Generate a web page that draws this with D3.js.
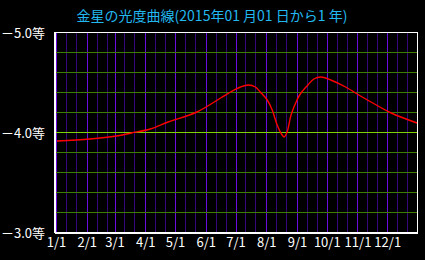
<!DOCTYPE html>
<html>
<head>
<meta charset="utf-8">
<script src="https://cdn.jsdelivr.net/npm/d3@7"></script>
<style>
  body { margin: 0; background: #000; }
  text { font-family: "Noto Sans CJK JP", sans-serif; }
</style>
</head>
<body>
<div id="chart"></div>
<script>
// DATA //
const titleText = "金星の光度曲線(2015年01 月01 日から1 年)"

// dates, with extra points around the August dip
const dates = [
    "2015-01-02", "2015-02-04", "2015-03-03", "2015-03-18", "2015-04-06",
    "2015-04-24", "2015-05-23", "2015-06-16", "2015-06-26", "2015-07-06",
    "2015-07-14", "2015-07-21", "2015-07-26", "2015-08-02", "2015-08-07",
    "2015-08-12", "2015-08-17", "2015-08-19", "2015-08-22", "2015-08-26",
    "2015-09-01", "2015-09-05", "2015-09-12", "2015-09-18", "2015-09-25",
    "2015-10-05", "2015-10-20", "2015-11-04", "2015-11-20", "2015-12-05",
    "2015-12-31"
]
const magnitudes = [
    -3.91, -3.93, -3.96, -3.99, -4.03,
    -4.10, -4.20, -4.34, -4.40, -4.45,
    -4.47, -4.45, -4.40, -4.32, -4.22,
    -4.07, -3.97, -3.95, -4.00, -4.17,
    -4.32, -4.39, -4.47, -4.53, -4.55,
    -4.52, -4.45, -4.36, -4.27, -4.19,
    -4.09
]
const magTicks = [-5.0, -4.0, -3.0]
const magGrid = [-4.8, -4.6, -4.4, -4.2, -4.0, -3.8, -3.6, -3.4, -3.2]

// dimensions
let dimensions = {
    width: 425,
    height: 260,
    margin: { top: 32, right: 8, bottom: 28, left: 56 },
}
dimensions.boundedWidth = dimensions.width - dimensions.margin.left - dimensions.margin.right
dimensions.boundedHeight = dimensions.height - dimensions.margin.top - dimensions.margin.bottom

const parse = d3.timeParse("%Y-%m-%d")
const dataset = dates.map((d, i) => ({ date: parse(d), mag: magnitudes[i] }))

const xScale = d3.scaleTime()
    .domain([parse("2015-01-01"), parse("2015-12-31")])
    .range([0, dimensions.boundedWidth])

const yScale = d3.scaleLinear()
    .domain([-5, -3])
    .range([0, dimensions.boundedHeight])

const svg = d3.select("#chart").append("svg")
    .attr("width", dimensions.width)
    .attr("height", dimensions.height)
    .style("background", "#000")

svg.append("text")
    .attr("x", 212)
    .attr("y", 21)
    .attr("text-anchor", "middle")
    .attr("fill", "#22b8f0")
    .style("font-size", "14px")
    .text(titleText)

const bounds = svg.append("g")
    .attr("transform", `translate(${dimensions.margin.left},${dimensions.margin.top})`)

// vertical grid: 1st (bright), 11th and 21st (dim) of every month
const dayLines = []
d3.timeMonth.range(parse("2015-01-01"), parse("2016-01-01")).forEach(m => {
    [1, 11, 21].forEach(day => dayLines.push({ date: new Date(2015, m.getMonth(), day), major: day == 1 }))
})

bounds.selectAll(".vgrid").data(dayLines)
    .join("line")
    .attr("class", "vgrid")
    .attr("x1", d => Math.round(xScale(d.date)) + 0.5)
    .attr("x2", d => Math.round(xScale(d.date)) + 0.5)
    .attr("y1", 0)
    .attr("y2", dimensions.boundedHeight)
    .attr("stroke", d => d.major ? "#6a0ee0" : "#34087a")
    .attr("stroke-width", 1)
    .attr("shape-rendering", "crispEdges")

// horizontal grid every 0.2 mag
bounds.selectAll(".hgrid").data(magGrid)
    .join("line")
    .attr("class", "hgrid")
    .attr("x1", 0)
    .attr("x2", dimensions.boundedWidth)
    .attr("y1", d => Math.round(yScale(d)) + 0.5)
    .attr("y2", d => Math.round(yScale(d)) + 0.5)
    .attr("stroke", d => Math.abs(d + 4) < 0.01 ? "#7ed000" : "#3c7c00")
    .attr("stroke-width", 1)
    .attr("shape-rendering", "crispEdges")

// frame
bounds.append("rect")
    .attr("x", -0.5)
    .attr("y", 0.5)
    .attr("width", dimensions.boundedWidth + 1)
    .attr("height", dimensions.boundedHeight)
    .attr("fill", "none")
    .attr("stroke", "#fff")
    .attr("stroke-width", 1)
    .attr("shape-rendering", "crispEdges")

bounds.append("line")
    .attr("x1", -1).attr("x2", -1)
    .attr("y1", 0).attr("y2", dimensions.boundedHeight + 1)
    .attr("stroke", "#fff").attr("stroke-width", 2)

bounds.append("line")
    .attr("x1", -1).attr("x2", dimensions.boundedWidth + 1)
    .attr("y1", dimensions.boundedHeight + 1).attr("y2", dimensions.boundedHeight + 1)
    .attr("stroke", "#fff").attr("stroke-width", 2)

// curve
const lineGenerator = d3.line()
    .x(d => xScale(d.date))
    .y(d => yScale(d.mag))
    .curve(d3.curveCatmullRom.alpha(0.5))

bounds.append("path")
    .datum(dataset)
    .attr("d", lineGenerator)
    .attr("fill", "none")
    .attr("stroke", "#ff0000")
    .attr("stroke-width", 1.4)

// x labels
const xAxisGenerator = d3.axisBottom(xScale)
    .ticks(d3.timeMonth.every(1))
    .tickFormat(d => `${d.getMonth() + 1}/1`)
    .tickSize(0)
    .tickPadding(6)

const xAxis = bounds.append("g")
    .attr("transform", `translate(0,${dimensions.boundedHeight})`)
    .call(xAxisGenerator)
xAxis.select(".domain").remove()
xAxis.selectAll("text")
    .attr("fill", "#fff")
    .style("font-size", "13px")
    .style("font-family", "'Noto Sans CJK JP', sans-serif")

// y labels
const yAxisGenerator = d3.axisLeft(yScale)
    .tickValues(magTicks)
    .tickFormat(d => `－${Math.abs(d).toFixed(1)}等`)
    .tickSize(0)
    .tickPadding(11)

const yAxis = bounds.append("g").call(yAxisGenerator)
yAxis.select(".domain").remove()
yAxis.selectAll("text")
    .attr("fill", "#fff")
    .attr("dy", "0.45em")
    .style("font-size", "13px")
    .style("font-family", "'Noto Sans CJK JP', sans-serif")
</script>
</body>
</html>
